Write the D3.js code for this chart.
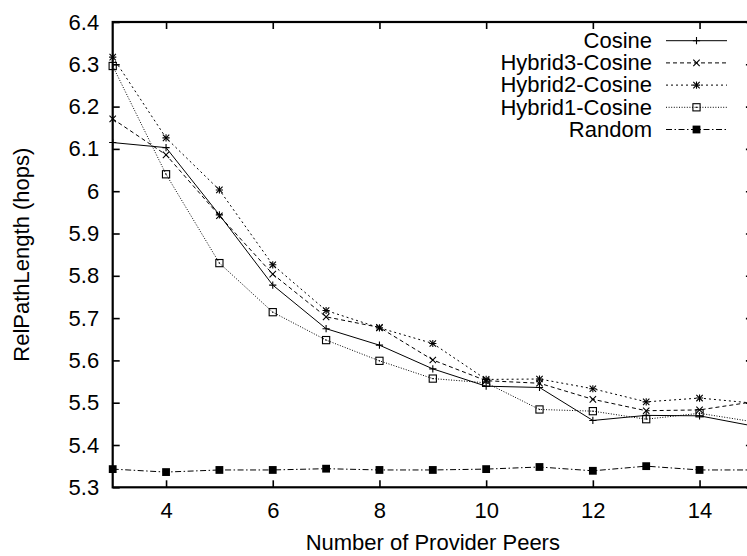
<!DOCTYPE html>
<html>
<head>
<meta charset="utf-8">
<script src="https://cdn.jsdelivr.net/npm/d3@7"></script>
<style>
  html, body { margin: 0; padding: 0; background: #fff; }
  svg { display: block; }
  text { font-family: "Liberation Sans", Arial, Helvetica, sans-serif; fill: #000; }
</style>
</head>
<body>
<svg id="chart" width="747" height="556"></svg>
<script>
// Number of provider peers (x) and path length per strategy
const peers = [3, 4, 5, 6, 7, 8, 9, 10, 11, 12, 13, 14, 15];
const cosine  = [6.115, 6.103, 5.944, 5.778, 5.675, 5.636, 5.580, 5.539, 5.536, 5.458, 5.470, 5.469, 5.445];
const hybrid3 = [6.171, 6.086, 5.942, 5.804, 5.703, 5.678, 5.601, 5.552, 5.546, 5.508, 5.481, 5.483, 5.502];
const hybrid2 = [6.317, 6.126, 6.003, 5.826, 5.718, 5.677, 5.640, 5.555, 5.556, 5.533, 5.502, 5.511, 5.499];
const hybrid1 = [6.296, 6.040, 5.830, 5.714, 5.648, 5.599, 5.557, 5.547, 5.484, 5.480, 5.461, 5.475, 5.455];
const random  = [5.343, 5.336, 5.341, 5.341, 5.344, 5.341, 5.341, 5.343, 5.348, 5.339, 5.350, 5.341, 5.341];

const seriesNames = ["Cosine", "Hybrid3-Cosine", "Hybrid2-Cosine", "Hybrid1-Cosine", "Random"];
const seriesValues = [cosine, hybrid3, hybrid2, hybrid1, random];

const xTicks = [4, 6, 8, 10, 12, 14];
const yTicks = [5.3, 5.4, 5.5, 5.6, 5.7, 5.8, 5.9, 6.0, 6.1, 6.2, 6.3, 6.4];
const yTickLabels = ["5.3", "5.4", "5.5", "5.6", "5.7", "5.8", "5.9", "6", "6.1", "6.2", "6.3", "6.4"];
const xTitle = "Number of Provider Peers";
const yTitle = "RelPathLength (hops)";

// line and marker style for each series
const styles = [
  { dash: null,          marker: "plus" },
  { dash: "4,3",         marker: "cross" },
  { dash: "2,3",         marker: "star" },
  { dash: "1,1.6",       marker: "box" },
  { dash: "6,2.5,1.5,2.5", marker: "fbox" }
];

const svg = d3.select("#chart");
const L = 112.7, R = 752.9, T = 22, B = 487.3;
const FS = 22;

const x = d3.scaleLinear().domain([3, 15]).range([L, R]);
const y = d3.scaleLinear().domain([5.3, 6.4]).range([B, T]);

// axes with inward ticks, mirrored on top and right
const fmtY = d => yTickLabels[yTicks.findIndex(v => Math.abs(v - d) < 1e-9)];
const gl = svg.append("g").attr("transform", `translate(${L},0)`)
  .call(d3.axisLeft(y).tickValues(yTicks).tickFormat(fmtY).tickSizeInner(-7).tickSizeOuter(0).tickPadding(13.5));
const gb = svg.append("g").attr("transform", `translate(0,${B})`)
  .call(d3.axisBottom(x).tickValues(xTicks).tickFormat(d3.format("d")).tickSizeInner(-7).tickSizeOuter(0).tickPadding(15));
const gt = svg.append("g").attr("transform", `translate(0,${T})`)
  .call(d3.axisTop(x).tickValues(xTicks).tickFormat("").tickSizeInner(-7).tickSizeOuter(0));
const gr = svg.append("g").attr("transform", `translate(${R},0)`)
  .call(d3.axisRight(y).tickValues(yTicks).tickFormat("").tickSizeInner(-7).tickSizeOuter(0));
[gl, gb, gt, gr].forEach(g => {
  g.select(".domain").remove();
  g.selectAll(".tick line").attr("stroke", "#000").attr("stroke-width", 1.6);
  g.selectAll(".tick text").attr("font-size", FS).attr("fill", "#000")
    .style("font-family", '"Liberation Sans", Arial, Helvetica, sans-serif');
});

svg.append("rect")
  .attr("x", L).attr("y", T).attr("width", R - L).attr("height", B - T)
  .attr("fill", "none").attr("stroke", "#000").attr("stroke-width", 2.2);

// axis titles
svg.append("text").attr("x", (L + R) / 2).attr("y", 550)
  .attr("text-anchor", "middle").attr("font-size", FS).text(xTitle);
svg.append("text").attr("transform", `translate(29,${(T + B) / 2}) rotate(-90)`)
  .attr("text-anchor", "middle").attr("font-size", FS).text(yTitle);

// marker drawing
function drawMarker(g, kind, cx, cy) {
  const s = 3.6;
  if (kind === "plus" || kind === "star") {
    g.append("path").attr("d", `M${cx - s},${cy}H${cx + s}M${cx},${cy - s}V${cy + s}`)
      .attr("stroke", "#000").attr("stroke-width", 1.1).attr("fill", "none");
  }
  if (kind === "cross" || kind === "star") {
    const c = 3.2;
    g.append("path").attr("d", `M${cx - c},${cy - c}L${cx + c},${cy + c}M${cx - c},${cy + c}L${cx + c},${cy - c}`)
      .attr("stroke", "#000").attr("stroke-width", 1.1).attr("fill", "none");
  }
  if (kind === "box") {
    g.append("rect").attr("x", cx - 3.6).attr("y", cy - 3.6).attr("width", 7.2).attr("height", 7.2)
      .attr("fill", "none").attr("stroke", "#000").attr("stroke-width", 1.1);
    g.append("rect").attr("x", cx - 0.6).attr("y", cy - 0.6).attr("width", 1.2).attr("height", 1.2).attr("fill", "#000");
  }
  if (kind === "fbox") {
    g.append("rect").attr("x", cx - 3.9).attr("y", cy - 3.9).attr("width", 7.8).attr("height", 7.8).attr("fill", "#000");
  }
}

const line = d3.line().x((d, i) => x(peers[i])).y(d => y(d));
const plot = svg.append("g");
seriesValues.forEach((vals, k) => {
  const st = styles[k];
  plot.append("path").datum(vals).attr("d", line)
    .attr("fill", "none").attr("stroke", "#000").attr("stroke-width", 1)
    .attr("stroke-dasharray", st.dash);
  const mg = plot.append("g");
  vals.forEach((v, i) => drawMarker(mg, st.marker, x(peers[i]), y(v)));
});

// legend
const legY0 = 40.7, legDy = 22.2;
const leg = svg.append("g");
seriesNames.forEach((name, k) => {
  const ly = legY0 + k * legDy;
  leg.append("text").attr("x", 652).attr("y", ly).attr("dy", "0.33em")
    .attr("text-anchor", "end").attr("font-size", FS).text(name);
  leg.append("line").attr("x1", 666).attr("x2", 727).attr("y1", ly).attr("y2", ly)
    .attr("stroke", "#000").attr("stroke-width", 1).attr("stroke-dasharray", styles[k].dash);
  drawMarker(leg, styles[k].marker, 696.5, ly);
});
</script>
</body>
</html>
